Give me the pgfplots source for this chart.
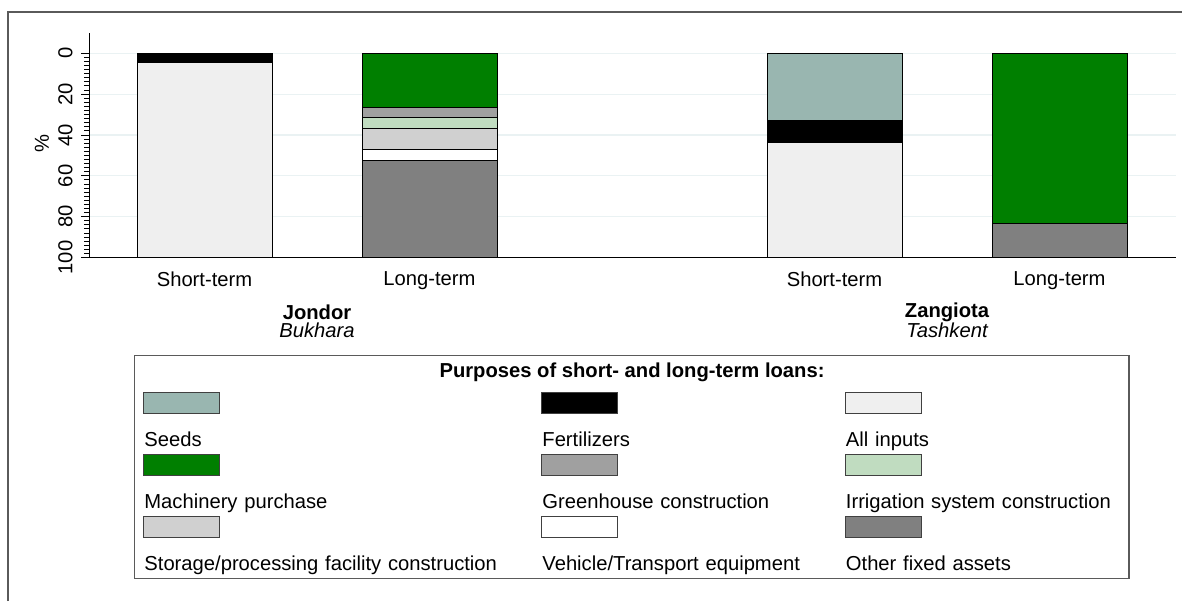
\documentclass[border=0pt]{standalone}
\usepackage{fontspec}
\setmainfont{Liberation Sans}
\usepackage{pgfplots}
\pgfplotsset{compat=1.18}

\definecolor{seeds}{HTML}{99B6B0}
\definecolor{fert}{HTML}{000000}
\definecolor{allin}{HTML}{EFEFEF}
\definecolor{mach}{HTML}{007F00}
\definecolor{green1}{HTML}{A0A0A0}
\definecolor{irrig}{HTML}{C0DCC0}
\definecolor{storage}{HTML}{D0D0D0}
\definecolor{vehicle}{HTML}{FFFFFF}
\definecolor{other}{HTML}{808080}
\definecolor{gridc}{HTML}{EAF2F3}
\definecolor{framec}{HTML}{5A5A5A}

\newcommand{\fs}{\fontsize{10.1}{12}\selectfont}

\begin{document}
\fs
\begin{tikzpicture}[x=0.5pt,y=0.5pt]
\useasboundingbox (0,0) rectangle (1182,-601);
% outer graph region border (only top and left visible)
\draw[framec, line width=0.7pt] (8,-601) -- (8,-12) -- (1182,-12);

\begin{axis}[
  at={(44.5pt,-128.75pt)}, anchor=south west,
  scale only axis, width=543.5pt, height=112.1pt,
  xmin=89, xmax=1176, ymin=-9.8, ymax=100, y dir=reverse,
  ybar stacked, bar width=135,
  axis x line=bottom, axis y line=left,
  axis line style={-, black, line width=0.5pt},
  xtick={204.5,429.5,834.5,1059.5},
  xticklabels={Short-term,Long-term,Short-term,Long-term},
  x tick style={draw=none},
  ytick={0,20,...,100}, minor ytick={2,4,...,98},
  tick align=outside, major tick length=4pt, minor tick length=2.5pt,
  y tick style={black, line width=0.5pt},
  ymajorgrids, grid style={color=gridc, line width=0.6pt},
  ticklabel style={font=\fs},
  /pgf/number format/assume math mode=true,
  yticklabel style={xshift=-4pt, rotate=90, anchor=south, inner sep=0pt},
  xticklabel style={anchor=north, inner sep=0pt, yshift=-3pt},
  every axis plot/.append style={draw=black, line width=0.5pt},
  legend columns=3,
  legend cell align=left,
  legend image code/.code={%
    \path (0pt,0pt);
    \draw[#1, overlay, draw=black!75, line width=0.5pt] (0pt,14pt) rectangle (38pt,24.35pt);},
  legend style={at={(0.0497,-0.774)}, anchor=north west,
    draw=none, fill=none, inner sep=0pt,
    column sep=0pt, row sep=21pt,
    nodes={inner sep=0pt, text height=7.5pt, text depth=2.5pt, align=left, font=\fs},
    /tikz/column 2/.style={text width=198.5pt},
    /tikz/column 4/.style={text width=151.25pt},
    /tikz/column 6/.style={text width=140pt}},
]
\addplot[fill=seeds] coordinates {(204.5,0) (429.5,0) (834.5,33.1) (1059.5,0)};
\addlegendentry{Seeds}
\addplot[fill=fert] coordinates {(204.5,4.4) (429.5,0) (834.5,10.8) (1059.5,0)};
\addlegendentry{Fertilizers}
\addplot[fill=allin] coordinates {(204.5,95.6) (429.5,0) (834.5,56.1) (1059.5,0)};
\addlegendentry{All inputs}
\addplot[fill=mach] coordinates {(204.5,0) (429.5,26.6) (834.5,0) (1059.5,83.4)};
\addlegendentry{Machinery purchase}
\addplot[fill=green1] coordinates {(204.5,0) (429.5,4.9) (834.5,0) (1059.5,0)};
\addlegendentry{Greenhouse construction}
\addplot[fill=irrig] coordinates {(204.5,0) (429.5,5.2) (834.5,0) (1059.5,0)};
\addlegendentry{Irrigation system construction}
\addplot[fill=storage] coordinates {(204.5,0) (429.5,10.6) (834.5,0) (1059.5,0)};
\addlegendentry{Storage/processing facility construction}
\addplot[fill=vehicle] coordinates {(204.5,0) (429.5,5.3) (834.5,0) (1059.5,0)};
\addlegendentry{Vehicle/Transport equipment}
\addplot[fill=other] coordinates {(204.5,0) (429.5,47.4) (834.5,0) (1059.5,16.6)};
\addlegendentry{Other fixed assets}
\end{axis}

\node[rotate=90] at (42,-144) {\%};
\node[font=\fs\bfseries] at (317,-312) {Jondor};
\node[font=\fs\itshape] at (317,-330) {Bukhara};
\node[font=\fs\bfseries] at (947,-312) {Zangiota};
\node[font=\fs\itshape] at (947,-330) {Tashkent};

\draw[framec, line width=0.6pt] (134.7,-355.7) rectangle (1129,-578.5);
\node[font=\fs\bfseries] at (632,-372) {Purposes of short- and long-term loans:};
\end{tikzpicture}
\end{document}
